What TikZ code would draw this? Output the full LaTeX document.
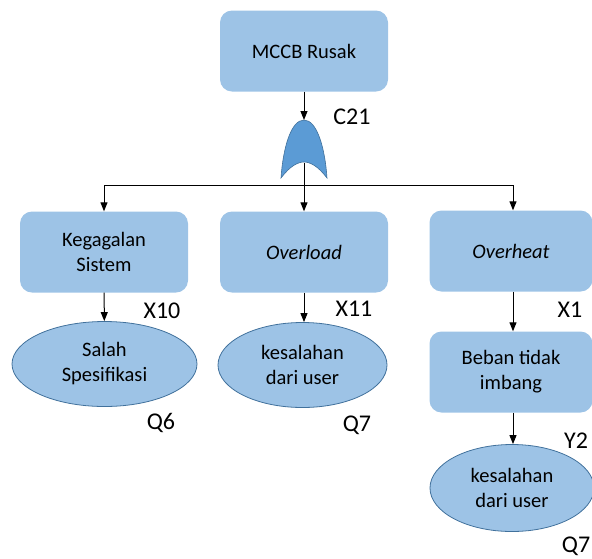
\documentclass[tikz,border=0pt]{standalone}
\usepackage{fontspec}
\setmainfont{Carlito}
\usetikzlibrary{arrows.meta,positioning,shapes.geometric}
\definecolor{boxblue}{HTML}{9DC3E6}
\definecolor{gateblue}{HTML}{5B9BD5}
\definecolor{edgeblue}{HTML}{41719C}
\tikzset{
  evbox/.style={rectangle,rounded corners=12pt,fill=boxblue,minimum width=168pt,
    minimum height=81pt,inner sep=0pt,align=center,font=\fontsize{20.5}{25}\selectfont},
  basic/.style={ellipse,fill=boxblue,draw=edgeblue,line width=0.8pt,inner sep=0pt,
    minimum height=85pt,align=center,font=\fontsize{20.5}{25}\selectfont},
  code/.style={font=\fontsize{24}{28}\selectfont,inner sep=0pt},
  arr/.style={-{Triangle[length=9pt,width=7pt]},line width=1pt}
}

\begin{document}
\begin{tikzpicture}[x=1pt,y=-1pt]
\useasboundingbox (0,0) rectangle (592,558);
\node[evbox] (top) at (304,51) {MCCB Rusak};
\draw[fill=gateblue,draw=edgeblue,line width=0.6pt] (281,178)
  .. controls (283,148) and (291,120) .. (304,120)
  .. controls (317,120) and (325,148) .. (327,178)
  .. controls (318,166) and (310,162) .. (304,162)
  .. controls (298,162) and (290,166) .. (281,178) -- cycle;
\coordinate (gtop) at (304,120);
\coordinate (gmid) at (304,163);
\coordinate (jn) at (304,185);
\node[code] (c21) at (352,117) {C21};
\node[evbox] (keg) at (104,252) {Kegagalan\\Sistem};
\node[evbox] (ovl) at (304,252) {\itshape Overload};
\node[evbox,minimum width=163pt] (ovh) at (511,251) {\itshape Overheat};
\node[basic,minimum width=185pt] (sal) at (104.5,364) {Salah\\Spesifikasi};
\node[basic,minimum width=169pt] (kes1) at (302.5,365) {kesalahan\\dari user};
\node[evbox,minimum width=163pt] (beb) at (511,372) {Beban tidak\\imbang};
\node[basic,minimum width=164pt,minimum height=87pt] (kes2) at (512,488) {kesalahan\\dari user};
\node[code] (x10) at (162,311) {X10};
\node[code] (x11) at (354,309) {X11};
\node[code] (x1) at (570,310) {X1};
\node[code] (y2) at (576,441) {Y2};
\node[code] (q6) at (161,423) {Q6};
\node[code] (q7a) at (357,425) {Q7};
\node[code] (q7b) at (576,546) {Q7};
\draw[arr] (top) -- (gtop);
\draw[arr] (gmid) -- (ovl);
\draw[arr] (jn) -| (keg);
\draw[arr] (jn) -| (ovh.north-|513,0);
\draw[arr] (keg) -- (sal);
\draw[arr] (ovl.south-|304,0) -- (kes1.north-|304,0);
\draw[arr] (ovh.south-|513,0) -- (beb.north-|513,0);
\draw[arr] (beb.south-|513,0) -- (kes2.north-|513,0);
\end{tikzpicture}
\end{document}
